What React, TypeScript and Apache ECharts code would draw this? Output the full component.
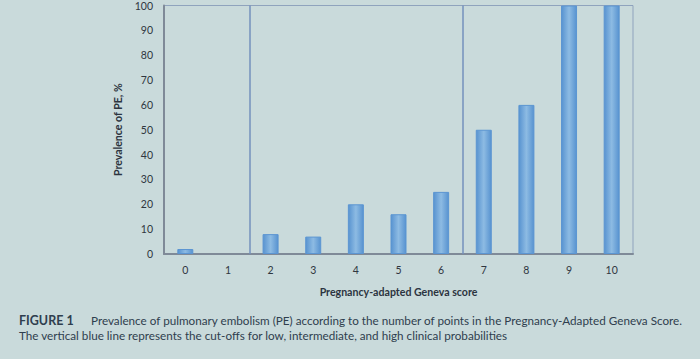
import React, { useEffect, useRef } from "react";
import * as echarts from "echarts";

const categories = ["0", "1", "2", "3", "4", "5", "6", "7", "8", "9", "10"];
const prevalence = [2, 0, 8, 7, 20, 16, 25, 50, 60, 100, 100];
const cutoffs = [1.5, 6.5];
const yTitle = "Prevalence of PE, %";
const xTitle = "Pregnancy-adapted Geneva score";
const figLabel = "FIGURE 1";
const captionLine1 =
  "Prevalence of pulmonary embolism (PE) according to the number of points in the Pregnancy-Adapted Geneva Score.";
const captionLine2 =
  "The vertical blue line represents the cut-offs for low, intermediate, and high clinical probabilities";

export default function App() {
  const ref = useRef<HTMLDivElement>(null);
  useEffect(() => {
    document.body.style.margin = "0";
    const chart = echarts.init(ref.current!, null, { renderer: "svg" });
    const font = "Lato, 'Open Sans', sans-serif";
    chart.setOption({
      animation: false,
      backgroundColor: "#c9dadb",
      textStyle: { fontFamily: font },
      grid: {
        left: 164,
        right: 67,
        top: 5,
        bottom: 105,
        show: true,
        borderColor: "#8fa3bd",
        borderWidth: 1,
        backgroundColor: "transparent",
      },
      xAxis: [
        {
          type: "category",
          data: categories,
          axisLine: { lineStyle: { color: "#7f8a98", width: 2 } },
          axisTick: { show: false },
          axisLabel: { color: "#2f3640", fontSize: 10.5, margin: 10, fontFamily: font },
          name: xTitle,
          nameLocation: "middle",
          nameGap: 32,
          nameTextStyle: { color: "#2c3440", fontSize: 10.6, fontWeight: "bold", fontFamily: font },
        },
        {
          type: "value",
          min: -0.5,
          max: 10.5,
          show: false,
        },
      ],
      yAxis: {
        type: "value",
        min: 0,
        max: 100,
        interval: 10,
        axisLine: { show: true, onZero: false, lineStyle: { color: "#7f8a98", width: 2 } },
        axisTick: { show: false },
        splitLine: { show: false },
        axisLabel: { color: "#2f3640", fontSize: 10.5, margin: 11, fontFamily: font },
        name: yTitle,
        nameLocation: "middle",
        nameGap: 37,
        nameTextStyle: { color: "#2c3440", fontSize: 10.6, fontWeight: "bold", fontFamily: font },
      },
      series: [
        {
          type: "bar",
          data: prevalence.map((v) =>
            v === 0 ? { value: v, itemStyle: { borderWidth: 0 } } : v
          ),
          barWidth: 16,
          itemStyle: {
            color: {
              type: "linear",
              x: 0,
              y: 0,
              x2: 1,
              y2: 0,
              colorStops: [
                { offset: 0, color: "#5893d0" },
                { offset: 0.5, color: "#8dbbe3" },
                { offset: 1, color: "#5893d0" },
              ],
            },
            borderColor: "#5b95d2",
            borderWidth: 1,
          },
          silent: true,
        },
        {
          type: "line",
          xAxisIndex: 1,
          data: [],
          symbol: "none",
          markLine: {
            silent: true,
            symbol: ["none", "none"],
            label: { show: false },
            lineStyle: { color: "#7391bd", width: 1.5, type: "solid" },
            data: cutoffs.map((c) => ({ xAxis: c })),
          },
        },
      ],
      graphic: [
        {
          type: "text",
          left: 19,
          top: 314,
          style: {
            text: figLabel,
            fill: "#2f3e4e",
            font: `bold 12.5px ${font}`,
          },
        },
        {
          type: "text",
          left: 91,
          top: 314,
          style: {
            text: captionLine1,
            fill: "#2f3e4e",
            font: `11.7px ${font}`,
          },
        },
        {
          type: "text",
          left: 19,
          top: 329,
          style: {
            text: captionLine2,
            fill: "#2f3e4e",
            font: `11.7px ${font}`,
          },
        },
      ],
    });
    return () => chart.dispose();
  }, []);
  return <div ref={ref} style={{ width: 700, height: 359 }} />;
}
